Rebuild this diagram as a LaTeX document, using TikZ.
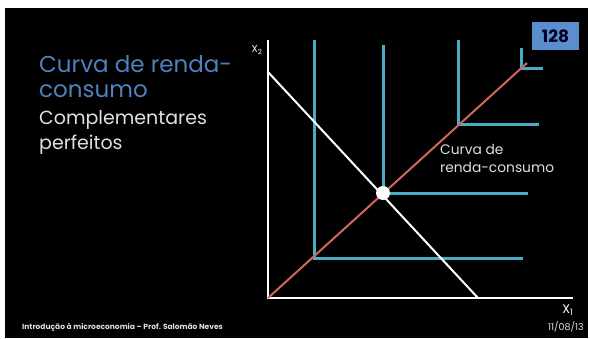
\documentclass[tikz,border=0pt]{standalone}
\usepackage{fontspec}
\setmainfont{Poppins}
\definecolor{ttlblue}{HTML}{4F81BD}
\definecolor{lblue}{HTML}{4BACC6}
\definecolor{lred}{HTML}{D0675E}
\definecolor{boxblue}{HTML}{5B8FCC}
\definecolor{ltext}{HTML}{E0E0E0}
\tikzset{
  axisline/.style={white, line width=2pt},
  icurve/.style={lblue, line width=3pt},
  txt/.style={inner sep=0pt, anchor=west, align=left},
}
\begin{document}
\begin{tikzpicture}[x=1pt,y=-1pt]
\useasboundingbox (0,0) rectangle (590,338);
\fill[white] (0,0) rectangle (590,338);
\fill[black] (5,8) rectangle (588,338);
% title
\node[txt, text=ttlblue, font=\fontsize{23}{27}\selectfont] (t1) at (39,64) {Curva de renda-};
\node[txt, text=ttlblue, font=\fontsize{23}{27}\selectfont] (t2) at (39,91) {consumo};
\node[txt, text=ltext, font=\fontsize{19}{24}\selectfont] (s1) at (39,120) {Complementares};
\node[txt, text=ltext, font=\fontsize{19}{24}\selectfont] (s2) at (39,145) {perfeitos};
% page number
\node[fill=boxblue, minimum width=47pt, minimum height=28pt, inner sep=0pt, font=\bfseries\fontsize{17}{20}\selectfont, text=black!85!blue] (pn) at (555.5,36) {128};
% axes
\coordinate (O) at (268,298);
\coordinate (ytop) at (268,40);
\coordinate (xend) at (573,298);
\draw[axisline] (ytop) -- (O) -- (xend);
\node[text=white, font=\fontsize{10}{12}\selectfont, inner sep=0pt] (x2) at (257,50) {X\textsubscript{2}};
\node[text=white, font=\fontsize{12.5}{14}\selectfont, inner sep=0pt] (x1) at (568,310) {X\textsubscript{1}};
% indifference curves
\coordinate (c1) at (314,258);
\coordinate (c2) at (383,193);
\coordinate (c3) at (458,124);
\coordinate (c4) at (521,68);
\draw[icurve] (314,40) -- (c1) -- (523,258);
\draw[icurve] (383,45) -- (c2) -- (528,193);
\draw[icurve] (458,40) -- (c3) -- (539,124);
\draw[icurve] (521,48) -- (c4) -- (543,68);
% income-consumption curve
\coordinate (rend) at (527,63);
\draw[lred, line width=2pt] (O) -- (rend);
% budget line
\coordinate (b1) at (268,72);
\coordinate (b2) at (478,298);
\draw[white, line width=2pt] (b1) -- (b2);
\fill[white] (c2) circle (7);
\node[txt, text=ltext, font=\fontsize{13.8}{18}\selectfont] (lab1) at (440,149) {Curva de};
\node[txt, text=ltext, font=\fontsize{13.8}{18}\selectfont] (lab2) at (440,167) {renda-consumo};
% footer
\node[txt, text=ltext, font=\bfseries\fontsize{7.5}{9}\selectfont] (ft) at (22,327) {Introdução à microeconomia – Prof. Salomão Neves};
\node[inner sep=0pt, anchor=east, text=ltext, font=\fontsize{9.5}{10}\selectfont] (dt) at (584,327) {11/08/13};
\end{tikzpicture}
\end{document}
